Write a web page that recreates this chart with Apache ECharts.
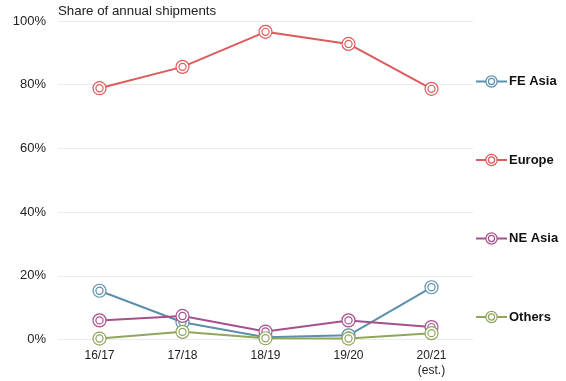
<!DOCTYPE html>
<html>
<head>
<meta charset="utf-8">
<script src="https://cdn.jsdelivr.net/npm/echarts@6/dist/echarts.min.js"></script>
<style>html,body{margin:0;padding:0;background:#fff}#c{width:566px;height:381px}</style>
</head>
<body>
<div id="c"></div>
<script>
const categories = ['16/17', '17/18', '18/19', '19/20', '20/21\n(est.)'];
const feAsia = [15.3, 5.4, 0.7, 1.3, 16.4];
const europe = [78.9, 85.6, 96.6, 92.8, 78.7];
const neAsia = [6.0, 7.4, 2.5, 6.0, 3.9];
const others = [0.3, 2.4, 0.4, 0.3, 2.0];
const yTicks = [0, 20, 40, 60, 80, 100];

const seriesDefs = [
  { name: 'FE Asia', data: feAsia, color: '#5b8faa' },
  { name: 'Europe', data: europe, color: '#dc5b5b' },
  { name: 'NE Asia', data: neAsia, color: '#a6508e' },
  { name: 'Others', data: others, color: '#8fa65d' }
];

const ring = 'path://M0,-6A6,6,0,1,1,0,6A6,6,0,1,1,0,-6Z M0,-3.3A3.3,3.3,0,1,1,0,3.3A3.3,3.3,0,1,1,0,-3.3Z';
const font = '"Liberation Sans", Arial, sans-serif';

const chart = echarts.init(document.getElementById('c'), null, { renderer: 'canvas' });
chart.setOption({
  animation: false,
  title: {
    text: 'Share of annual shipments',
    left: 53, top: 0,
    textStyle: { fontFamily: font, fontSize: 13.3, fontWeight: 'normal', color: '#222' }
  },
  grid: { left: 58, right: 93, top: 21, bottom: 41.5 },
  legend: {
    orient: 'vertical',
    left: 470, top: 70,
    itemWidth: 31, itemHeight: 14, itemGap: 65.5,
    textStyle: { fontFamily: font, fontSize: 13, fontWeight: 'bold', color: '#111', padding: [0, 0, 0, -3] },
    data: seriesDefs.map(s => ({
      name: s.name,
      itemStyle: { color: '#fff', borderColor: s.color, borderWidth: 1.2 },
      lineStyle: { color: s.color, width: 2 }
    }))
  },
  xAxis: {
    type: 'category',
    data: categories,
    boundaryGap: true,
    axisLine: { show: false },
    axisTick: { show: false },
    axisLabel: { fontFamily: font, fontSize: 12, color: '#222', margin: 9, lineHeight: 15 }
  },
  yAxis: {
    type: 'value',
    min: yTicks[0], max: yTicks[yTicks.length - 1], interval: 20,
    axisLine: { show: false },
    axisTick: { show: false },
    splitLine: { lineStyle: { color: '#ebebeb', width: 1 } },
    axisLabel: { fontFamily: font, fontSize: 13, color: '#222', margin: 12, formatter: '{value}%' }
  },
  series: seriesDefs.map(s => ({
    name: s.name,
    type: 'line',
    data: s.data,
    symbol: ring,
    symbolSize: 13,
    symbolKeepAspect: true,
    lineStyle: { color: s.color, width: 2 },
    itemStyle: { color: '#fff', borderColor: s.color, borderWidth: 1.2 },
    emphasis: { disabled: true }
  }))
});
</script>
</body>
</html>
